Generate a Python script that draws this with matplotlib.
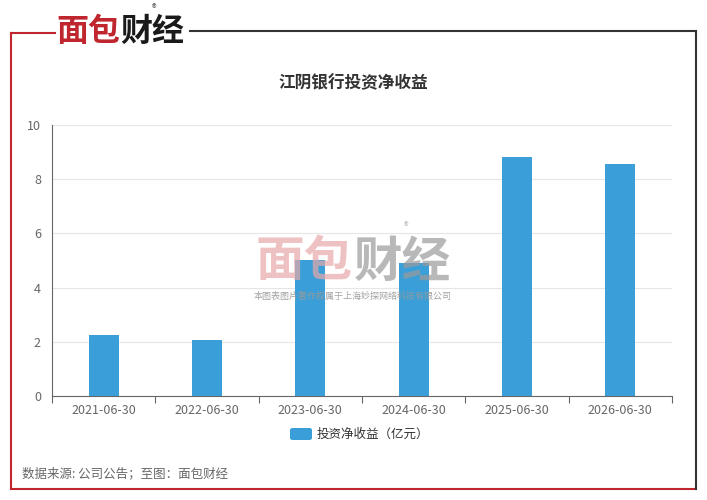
import matplotlib
matplotlib.use("Agg")
import matplotlib.pyplot as plt
from matplotlib.patches import FancyBboxPatch
from matplotlib.lines import Line2D

plt.rcParams['font.family'] = ['Noto Sans CJK SC', 'DejaVu Sans']

categories = ["2021-06-30", "2022-06-30", "2023-06-30", "2024-06-30", "2025-06-30", "2026-06-30"]
values = [2.25, 2.07, 5.02, 4.89, 8.81, 8.55]
yticks = [0, 2, 4, 6, 8, 10]
title = "江阴银行投资净收益"
legend_label = "投资净收益（亿元）"
source = "数据来源: 公司公告；至图：面包财经"

W, H = 707, 500
fig = plt.figure(figsize=(W / 100, H / 100), dpi=100)
fig.patch.set_facecolor("white")

def fx(x): return x / W
def fy(y): return 1 - y / H

ax = fig.add_axes([fx(52), fy(396), fx(672) - fx(52), fy(125) - fy(396)])
bar_color = "#3a9fd8"
x = list(range(len(categories)))
ax.bar(x, values, width=0.29, color=bar_color, zorder=3)
ax.set_xlim(-0.5, len(categories) - 0.5)
ax.set_ylim(0, 10)
ax.set_yticks(yticks)
ax.set_yticklabels([str(t) for t in yticks], color="#666666", fontsize=9)
ax.set_xticks(x)
ax.set_xticklabels(categories, color="#666666", fontsize=9)
ax.tick_params(axis="x", length=0, pad=6)
ax.tick_params(axis="y", length=0, pad=8)
ax.set_xticks([i - 0.5 for i in range(len(categories) + 1)], minor=True)
ax.tick_params(axis="x", which="minor", length=5, color="#666666", width=0.8)
ax.grid(axis="y", color="#e6e6e6", linewidth=0.8, zorder=0)
for s in ["top", "right"]:
    ax.spines[s].set_visible(False)
ax.spines["left"].set_color("#666666")
ax.spines["bottom"].set_color("#666666")
ax.spines["left"].set_linewidth(0.8)
ax.spines["bottom"].set_linewidth(0.8)

# frame
red = "#c0262d"
dark = "#333333"
fig.add_artist(Line2D([fx(11), fx(11)], [fy(33), fy(489)], color=red, lw=1.5))
fig.add_artist(Line2D([fx(11), fx(55)], [fy(33), fy(33)], color=red, lw=1.5))
fig.add_artist(Line2D([fx(11), fx(696)], [fy(489), fy(489)], color=red, lw=1.5))
fig.add_artist(Line2D([fx(190), fx(696)], [fy(31), fy(31)], color=dark, lw=1.5))
fig.add_artist(Line2D([fx(696), fx(696)], [fy(31), fy(489)], color=dark, lw=1.5))

# logo
fig.text(fx(56), fy(32), "面包", color=red, fontsize=23, fontweight="bold", va="center", ha="left")
fig.text(fx(120), fy(32), "财经", color="#1a1a1a", fontsize=23, fontweight="bold", va="center", ha="left")
fig.text(fx(154), fy(9), "®", color="#555555", fontsize=7, va="center", ha="center")

# watermark
fig.text(fx(256), fy(262), "面包", color="#e8a8a8", alpha=0.7, fontsize=35, fontweight="bold", va="center", ha="left", zorder=10)
fig.text(fx(354), fy(262), "财经", color="#9a9a9a", alpha=0.7, fontsize=35, fontweight="bold", va="center", ha="left", zorder=10)
fig.text(fx(406), fy(227), "®", color="#aaaaaa", alpha=0.8, fontsize=7, va="center", ha="center", zorder=10)
fig.text(fx(353), fy(296), "本图表图片著作权属于上海妙探网络科技有限公司", color="#999999", alpha=0.9, fontsize=6.5, va="center", ha="center", zorder=10)

# title
fig.text(fx(353), fy(83), title, color="#333333", fontsize=12, fontweight="bold", va="center", ha="center")

# legend
fig.add_artist(FancyBboxPatch((fx(290), fy(440)), fx(22), fy(428) - fy(440),
                              boxstyle="round,pad=0,rounding_size=0.004", transform=fig.transFigure,
                              facecolor=bar_color, edgecolor="none"))
fig.text(fx(317), fy(434), legend_label, color="#333333", fontsize=9, va="center", ha="left")

# source
fig.text(fx(22), fy(474), source, color="#666666", fontsize=9, va="center", ha="left")

fig.savefig("out.png", dpi=100, facecolor="white")
